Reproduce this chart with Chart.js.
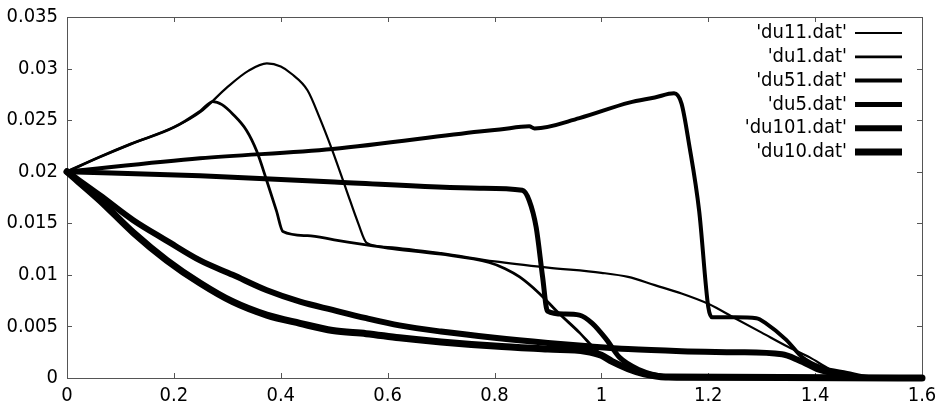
<!DOCTYPE html>
<html>
<head>
<meta charset="utf-8">
<script src="https://cdn.jsdelivr.net/npm/chart.js@4"></script>
<style>
  html, body { margin: 0; padding: 0; background: #fff; overflow: hidden; }
  #wrap { width: 948px; height: 415px; overflow: hidden; }
  #plot { display: block; margin-top: -4px; }
</style>
</head>
<body>
<div id="wrap"><canvas id="plot" width="948" height="419"></canvas></div>
<script>
// tick labels
const xTicks = ['0', '0.2', '0.4', '0.6', '0.8', '1', '1.2', '1.4', '1.6'];
const yTicks = ['0', '0.005', '0.01', '0.015', '0.02', '0.025', '0.03', '0.035'];

// series names, in key order
const names = ["'du11.dat'", "'du1.dat'", "'du51.dat'", "'du5.dat'", "'du101.dat'", "'du10.dat'"];

// values
const du11X = [0, 0.06, 0.12, 0.2, 0.25, 0.3, 0.34, 0.374, 0.4, 0.42, 0.45, 0.473, 0.497, 0.523, 0.545, 0.561, 0.6, 0.7, 0.8, 0.9, 1.0, 1.05, 1.1, 1.15, 1.2, 1.25, 1.3, 1.35, 1.39, 1.43, 1.47, 1.5, 1.6];
const du11Y = [0.02, 0.0214, 0.0227, 0.0243, 0.0258, 0.0282, 0.0298, 0.0305, 0.0302, 0.0295, 0.0279, 0.0252, 0.022, 0.0182, 0.015, 0.0131, 0.0127, 0.0121, 0.0113, 0.0107, 0.0102, 0.0098, 0.009, 0.0082, 0.0072, 0.0058, 0.0044, 0.003, 0.002, 0.0008, 0.0002, 0, 0];

const du1X = [0, 0.06, 0.12, 0.2, 0.25, 0.273, 0.29, 0.31, 0.336, 0.355, 0.374, 0.392, 0.404, 0.45, 0.5, 0.56, 0.6, 0.7, 0.79, 0.82, 0.847, 0.884, 0.92, 0.959, 0.99, 1.02, 1.07, 1.12, 1.6];
const du1Y = [0.02, 0.0214, 0.0227, 0.0243, 0.0259, 0.0268, 0.0265, 0.0256, 0.024, 0.022, 0.0191, 0.0162, 0.0142, 0.0138, 0.0134, 0.0129, 0.0126, 0.012, 0.0112, 0.0106, 0.0098, 0.0082, 0.0063, 0.0044, 0.0027, 0.0015, 0.0005, 0, 0];

const du51X = [0, 0.249, 0.497, 0.772, 0.81, 0.865, 0.875, 0.959, 1.052, 1.1, 1.136, 1.15, 1.164, 1.183, 1.2, 1.207, 1.25, 1.29, 1.308, 1.346, 1.376, 1.413, 1.46, 1.5, 1.6];
const du51Y = [0.02, 0.0213, 0.0222, 0.0239, 0.0241, 0.0244, 0.0242, 0.0252, 0.0267, 0.0272, 0.0276, 0.0266, 0.0227, 0.0162, 0.0069, 0.0059, 0.0059, 0.0058, 0.0053, 0.0037, 0.002, 0.001, 0.0005, 0.0001, 0];

const du5X = [0, 0.249, 0.5, 0.772, 0.852, 0.865, 0.878, 0.89, 0.899, 0.93, 0.959, 0.983, 1.01, 1.034, 1.071, 1.12, 1.15, 1.6];
const du5Y = [0.02, 0.0196, 0.019, 0.0184, 0.0182, 0.0172, 0.0146, 0.0098, 0.0065, 0.0062, 0.0061, 0.0053, 0.0037, 0.002, 0.0008, 0.0001, 0, 0];

const du101X = [0, 0.062, 0.124, 0.187, 0.249, 0.31, 0.374, 0.436, 0.497, 0.56, 0.622, 0.7, 0.8, 0.9, 0.97, 1.05, 1.15, 1.25, 1.338, 1.37, 1.407, 1.43, 1.47, 1.5, 1.6];
const du101Y = [0.02, 0.0177, 0.0153, 0.0133, 0.0114, 0.01, 0.0085, 0.0074, 0.0066, 0.0058, 0.0051, 0.0045, 0.0039, 0.0034, 0.0031, 0.0028, 0.0026, 0.0025, 0.0023, 0.0017, 0.0008, 0.0005, 0.0001, 0, 0];

const du10X = [0, 0.062, 0.124, 0.187, 0.249, 0.31, 0.374, 0.436, 0.497, 0.56, 0.622, 0.7, 0.8, 0.9, 0.97, 1.0, 1.02, 1.05, 1.08, 1.12, 1.6];
const du10Y = [0.02, 0.0172, 0.0141, 0.0114, 0.0092, 0.0074, 0.0061, 0.0053, 0.0046, 0.0043, 0.0039, 0.0035, 0.0031, 0.0028, 0.0026, 0.0022, 0.0016, 0.0009, 0.0004, 0.0001, 0];

const FONT = { family: "'DejaVu Sans Condensed', 'Noto Sans', sans-serif", size: 20 };

function pts(xs, ys) {
    return xs.map((x, i) => ({ x: x, y: ys[i] }));
}

function series(label, xs, ys, w) {
    return {
        label: label,
        data: pts(xs, ys),
        borderColor: '#000',
        borderWidth: w,
        pointRadius: 0,
        fill: false,
        clip: 8,
        cubicInterpolationMode: 'monotone',
        borderJoinStyle: 'round',
        borderCapStyle: 'round'
    };
}

// frame with inward ticks, gnuplot style
const framePlugin = {
    id: 'frame',
    beforeDatasetsDraw(chart) {
        const c = chart.ctx, a = chart.chartArea;
        const sx = chart.scales.x, sy = chart.scales.y;
        c.save();
        c.strokeStyle = '#555';
        c.lineWidth = 1;
        c.strokeRect(Math.round(a.left) + 0.5, Math.round(a.top) + 0.5,
                     Math.round(a.right - a.left), Math.round(a.bottom - a.top));
        c.beginPath();
        sx.ticks.forEach(t => {
            const p = Math.round(sx.getPixelForValue(t.value)) + 0.5;
            c.moveTo(p, a.bottom); c.lineTo(p, a.bottom - 5);
            c.moveTo(p, a.top); c.lineTo(p, a.top + 5);
        });
        sy.ticks.forEach(t => {
            const p = Math.round(sy.getPixelForValue(t.value)) + 0.5;
            c.moveTo(a.left, p); c.lineTo(a.left + 5, p);
            c.moveTo(a.right, p); c.lineTo(a.right - 5, p);
        });
        c.stroke();
        c.restore();
    },
    afterDraw(chart) {
        // key in the top right corner: text then line sample
        const c = chart.ctx, a = chart.chartArea;
        c.save();
        c.font = FONT.size + 'px ' + FONT.family;
        c.fillStyle = '#000';
        c.textAlign = 'right';
        c.textBaseline = 'middle';
        chart.data.datasets.forEach((ds, i) => {
            const y = a.top + 16 + i * 23.8;
            c.fillText(ds.label, a.right - 75, y);
            c.strokeStyle = '#000';
            c.lineWidth = ds.borderWidth;
            c.beginPath();
            c.moveTo(a.right - 67, y);
            c.lineTo(a.right - 20, y);
            c.stroke();
        });
        c.restore();
    }
};

new Chart(document.getElementById('plot'), {
    type: 'line',
    data: {
        datasets: [
            series(names[0], du11X, du11Y, 2.2),
            series(names[1], du1X, du1Y, 2.8),
            series(names[2], du51X, du51Y, 4),
            series(names[3], du5X, du5Y, 5),
            series(names[4], du101X, du101Y, 6),
            series(names[5], du10X, du10Y, 7)
        ]
    },
    options: {
        responsive: false,
        animation: false,
        layout: { padding: { top: 12, right: 26, left: 0, bottom: 0 } },
        plugins: { legend: { display: false }, tooltip: { enabled: false } },
        scales: {
            x: {
                type: 'linear', min: 0, max: 1.6,
                grid: { display: false, drawTicks: false },
                border: { display: false },
                ticks: {
                    stepSize: 0.2, color: '#000', font: FONT, padding: 6,
                    maxRotation: 0, autoSkip: false,
                    callback: (v, i) => xTicks[i]
                },
                afterFit: s => { s.height = 37; }
            },
            y: {
                min: 0, max: 0.035,
                grid: { display: false, drawTicks: false },
                border: { display: false },
                ticks: {
                    stepSize: 0.005, color: '#000', font: FONT, padding: 9,
                    autoSkip: false,
                    callback: (v, i) => yTicks[i]
                },
                afterFit: s => { s.width = 67; }
            }
        }
    },
    plugins: [framePlugin]
});
</script>
</body>
</html>
